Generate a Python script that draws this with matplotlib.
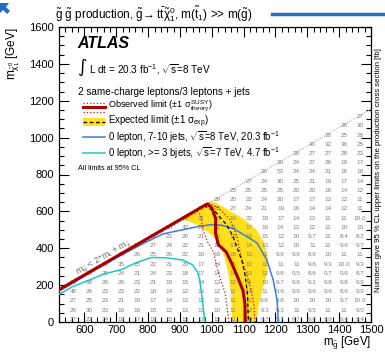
import matplotlib.pyplot as plt
from matplotlib.patches import Polygon, Rectangle
from matplotlib.lines import Line2D

plt.rcParams['font.family'] = ['Liberation Sans', 'DejaVu Sans']
plt.rcParams['mathtext.fontset'] = 'custom'
plt.rcParams['mathtext.rm'] = 'Liberation Sans'
plt.rcParams['mathtext.it'] = 'Liberation Sans'
plt.rcParams['mathtext.bf'] = 'Liberation Sans:bold'

# grid of signal points: gluino mass columns, LSP mass rows
gluino_mass = [550, 600, 650, 700, 750, 800, 850, 900, 950, 1000,
               1050, 1100, 1150, 1200, 1250, 1300, 1350, 1400, 1450]
lsp_mass = [1] + [50 * k for k in range(1, 23)]

# 95% CL cross-section upper limits [fb], one list per gluino column (bottom row first)
xsec_limits = [
    [27, 29, 27, 48, 35],
    [23, 30, 25, 26, 88, 40],
    [24, 23, 23, 23, 26, 29, 38],
    [19, 19, 21, 23, 26, 24, 35, 40],
    [17, 19, 19, 22, 23, 21, 25, 26, 37],
    [19, 15, 17, 18, 21, 24, 22, 25, 27, 36],
    [15, 12, 14, 14, 19, 23, 21, 26, 24, 23, 25],
    [13, 13, 13, 12, 15, 18, 20, 22, 22, 28, 42, 24],
    [13, 13, 13, 13, 14, 17, 17, 19, 21, 21, 23, 31, 26],
    [13, 10, 11, 12, 13, 14, 14, 16, 18, 20, 22, 16, 25, 29],
    [11, 11, 11, 11, 12, 14, 15, 16, 17, 19, 21, 19, 27, 20, 25],
    [10, 12, 11, 9.8, 11, 13, 13, 13, 14, 16, 17, 22, 24, 22, 25, 27],
    [9.7, 9.3, 9.6, 11, 10, 12, 11, 11, 13, 15, 16, 19, 21, 24, 25, 24, 26],
    [9.7, 9.3, 9.8, 9.6, 9.7, 9.8, 11, 9.9, 12, 12, 14, 17, 19, 20, 25, 30, 53, 36],
    [9.7, 11, 10, 9.9, 9.6, 9.5, 11, 9.9, 10, 10, 13, 14, 16, 17, 20, 25, 24, 24, 28],
    [9.8, 9.5, 10, 9.6, 9.1, 8.6, 9.6, 8.9, 11, 9.7, 12, 13, 14, 17, 20, 21, 24, 27, 27, 30],
    [9.9, 11, 10, 9.6, 9.8, 9.7, 9.3, 10, 11, 11, 11, 11, 14, 13, 16, 19, 21, 26, 27, 32, 28],
    [9.4, 11, 9.7, 8.6, 9.8, 9.9, 9.98, 11, 9.6, 8.4, 10, 11, 12, 12, 14, 17, 18, 19, 28, 36, 25, 28],
    [9.4, 9.0, 9.98, 9.9, 9.9, 8.7, 9.3, 11, 9.7, 8.2, 10, 9.98, 11, 11, 12, 14, 16, 17, 23, 25, 28, 30, 27],
]

# exclusion contours (m_gluino, m_LSP)
obs_x = [520, 985, 1000, 1012, 1012, 1020, 1045, 1062, 1082, 1098, 1104, 1105]
obs_y = [175, 640, 620, 560, 480, 420, 380, 320, 240, 170, 100, 0]
obs_up_x = [520, 990, 1020, 1058, 1079, 1089, 1105, 1121, 1131, 1136]
obs_up_y = [180, 645, 620, 554, 463, 374, 282, 191, 102, 0]
obs_dn_x = [520, 955, 965, 972, 985, 1005, 1021, 1042, 1052, 1053]
obs_dn_y = [170, 600, 580, 500, 440, 380, 264, 156, 27, 0]
exp_x = [975, 1010, 1045, 1065, 1080, 1095, 1105, 1112, 1115]
exp_y = [630, 600, 530, 470, 400, 330, 250, 150, 0]
band_x = [900, 1000, 1015, 1060, 1100, 1140, 1165, 1177, 1172, 1158, 1147, 1143,
          1064, 1063, 1060, 1052, 1040, 1020, 985, 955, 930]
band_y = [555, 655, 645, 600, 560, 500, 430, 340, 250, 170, 90, 0,
          0, 60, 160, 260, 350, 440, 490, 525, 545]
zl8_x = [520, 612, 717, 790, 847, 916, 963, 1000, 1030, 1067, 1110, 1142, 1173, 1193, 1205, 1209]
zl8_y = [167, 262, 365, 430, 478, 503, 520, 528, 525, 508, 463, 429, 336, 227, 118, 0]
zl7_x = [520, 560, 612, 660, 717, 760, 810, 860, 910, 940, 955, 962, 968, 975, 979]
zl7_y = [150, 190, 225, 260, 285, 320, 350, 348, 335, 310, 270, 230, 150, 50, 0]

red = '#a80000'
yellow = '#ffdf1e'
blue = '#3a7fe0'
cyan = '#1fc8c8'

W, H = 385, 355
fig = plt.figure(figsize=(W / 100, H / 100), dpi=100)
ax = fig.add_axes([59 / W, (H - 322) / H, 312 / W, 295 / H])
ax.set_xlim(520, 1500)
ax.set_ylim(0, 1600)

ax.add_patch(Polygon(list(zip(band_x, band_y)), closed=True, facecolor=yellow,
                     edgecolor='none', zorder=1))

def fmt(v):
    return f'{v:.1f}' if v < 10 else f'{v:.0f}'

for c, col in enumerate(xsec_limits):
    for k, v in enumerate(col):
        ax.text(gluino_mass[c] + 16, lsp_mass[k] + 14, fmt(v), fontsize=4.6,
                color='#808080', ha='center', va='center', zorder=2, clip_on=True)

ax.plot([520, 1500], [175, 1155], color='#999999', lw=0.7, ls=(0, (1, 1.5)), zorder=2)
ax.plot(zl7_x, zl7_y, color=cyan, lw=1.1, zorder=3)
ax.plot(zl8_x, zl8_y, color=blue, lw=1.1, zorder=3)
ax.plot(exp_x, exp_y, color='black', lw=0.9, ls=(0, (3, 2)), zorder=4)
ax.plot(obs_up_x, obs_up_y, color='#d01010', lw=0.9, ls=':', zorder=4)
ax.plot(obs_dn_x, obs_dn_y, color='#d01010', lw=0.9, ls=':', zorder=4)
ax.plot(obs_x, obs_y, color=red, lw=2.2, zorder=5)

ax.text(661, 345, r'm$_{\tilde{g}}$ < 2*m$_{t}$ + m$_{\tilde{\chi}}$', rotation=30,
        fontsize=6.5, color='#707070', ha='center', va='center', zorder=2)

ax.set_xticks(range(600, 1501, 100))
ax.set_xticks(range(520, 1501, 20), minor=True)
ax.set_yticks(range(0, 1601, 200))
ax.set_yticks(range(0, 1601, 50), minor=True)
ax.tick_params(which='both', direction='in', top=True, right=True, labelsize=8, width=0.8)
ax.tick_params(which='major', length=7)
ax.tick_params(which='minor', length=3.5)
ax.tick_params(axis='x', pad=2)
for s in ax.spines.values():
    s.set_linewidth(0.9)

ax.set_xlabel(r'm$_{\tilde{g}}$ [GeV]', fontsize=8.3, loc='right')
ax.xaxis.set_label_coords(1.0, -0.043)
ax.set_ylabel(r'm$_{\tilde{\chi}^{0}_{1}}$ [GeV]', fontsize=8.5, loc='top')
ax.yaxis.set_label_coords(-0.12, 1.0)

def fx(x):
    return x / W

def fy(y):
    return 1 - y / H

fig.text(fx(55), fy(14), r'$\tilde{g}\ \tilde{g}$ production, $\tilde{g}\!\rightarrow t\bar{t}\tilde{\chi}^{0}_{1}$, m($\tilde{t}_{1}$) >> m($\tilde{g}$)',
         fontsize=8.5, va='center', ha='left')
fig.text(fx(77), fy(44), 'ATLAS', fontsize=11.5, fontweight='bold', style='italic', va='center')
fig.text(fx(77), fy(67), '\u222b', fontsize=13, va='center', family='DejaVu Sans')
fig.text(fx(89), fy(70), r'L dt = 20.3 fb$^{-1}$, $\sqrt{s}$=8 TeV', fontsize=7.2, va='center')
fig.text(fx(78), fy(92), '2 same-charge leptons/3 leptons + jets', fontsize=7.2, va='center')

leg_rows = [106, 122, 137, 153]
fig.add_artist(Line2D([fx(83), fx(105)], [fy(103)] * 2, color='#d01010', lw=0.9, ls=':'))
fig.add_artist(Line2D([fx(83), fx(105)], [fy(111.5)] * 2, color='#d01010', lw=0.9, ls=':'))
fig.add_artist(Line2D([fx(83), fx(105)], [fy(107.3)] * 2, color=red, lw=2.2))
fig.add_artist(Rectangle((fx(83), fy(126)), fx(22), 8 / H, transform=fig.transFigure,
                         facecolor=yellow, edgecolor='none'))
fig.add_artist(Line2D([fx(83), fx(105)], [fy(122)] * 2, color='black', lw=0.9, ls=(0, (3, 2))))
fig.add_artist(Line2D([fx(83), fx(105)], [fy(137.3)] * 2, color=blue, lw=1.1))
fig.add_artist(Line2D([fx(83), fx(105)], [fy(153.3)] * 2, color=cyan, lw=1.1))
leg_text = [r'Observed limit ($\pm$1 $\sigma^{\rm SUSY}_{\rm theory}$)',
            r'Expected limit ($\pm$1 $\sigma_{\rm exp}$)',
            r'0 lepton, 7-10 jets, $\sqrt{s}$=8 TeV, 20.3 fb$^{-1}$',
            r'0 lepton, >= 3 bjets, $\sqrt{s}$=7 TeV, 4.7 fb$^{-1}$']
leg_size = [6.6, 6.9, 6.9, 6.9]
for y, t, s in zip(leg_rows, leg_text, leg_size):
    fig.text(fx(108), fy(y), t, fontsize=s, va='center')
fig.text(fx(78), fy(168), 'All limits at 95% CL', fontsize=5.2, va='center')

fig.text(fx(379), fy(170), 'Numbers give 95 % CL upper limits on the production cross section [fb]',
         fontsize=5.6, rotation=90, ha='center', va='center')

# page artefacts at the edges of the screenshot
fig.add_artist(Line2D([fx(272), fx(385)], [fy(14)] * 2, color='#2a6ebb', lw=2.5))
fig.add_artist(Polygon([(fx(0), fy(3)), (fx(9), fy(3)), (fx(6), fy(7)), (fx(10), fy(11)),
                        (fx(7), fy(14)), (fx(3), fy(10)), (fx(0), fy(13))],
                       closed=True, transform=fig.transFigure, facecolor='#1f6fc0', edgecolor='none'))

fig.savefig('out.png', dpi=100)
